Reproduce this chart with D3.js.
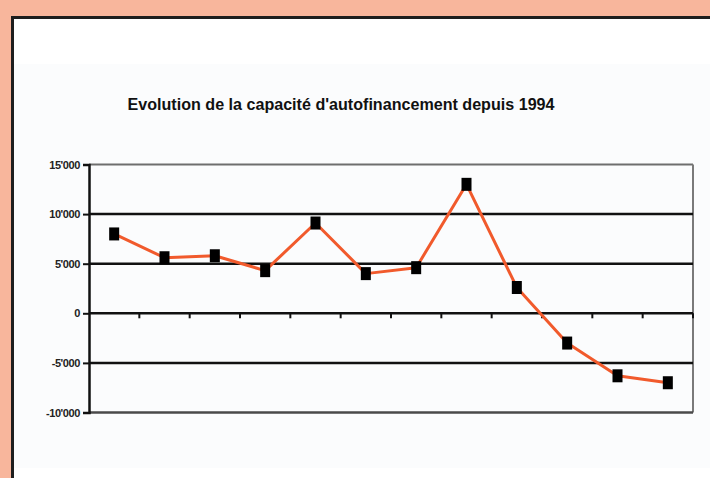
<!DOCTYPE html>
<html>
<head>
<meta charset="utf-8">
<script src="https://cdn.jsdelivr.net/npm/d3@7"></script>
<style>
  html, body { margin: 0; padding: 0; background: #f8b69c; }
  svg { display: block; }
</style>
</head>
<body>
<div id="chart"></div>
<script>
// données
const years = ["1994","1995","1996","1997","1998","1999","2000","2001","2002","2003","2004","2005"];
const cafValues = [8000, 5600, 5800, 4300, 9100, 4000, 4600, 13000, 2600, -3000, -6300, -7000];
const yTicks = [-10000, -5000, 0, 5000, 10000, 15000];
const gridValues = [-5000, 0, 5000, 10000];
const titleText = "Evolution de la capacité d'autofinancement depuis 1994";

const W = 710, H = 478;
const plot = { left: 89, right: 693, top: 164.5, bottom: 412.5 };

const svg = d3.select("#chart").append("svg")
  .attr("width", W)
  .attr("height", H);

// fond saumon + cadre blanc
svg.append("rect").attr("width", W).attr("height", H).attr("fill", "#f8b69c");
svg.append("rect")
  .attr("x", 12.5).attr("y", 17.5)
  .attr("width", W).attr("height", H)
  .attr("fill", "#ffffff")
  .attr("stroke", "#1e1e1e")
  .attr("stroke-width", 3);
// zone légèrement bleutée du graphique
svg.append("rect")
  .attr("x", 14).attr("y", 64)
  .attr("width", W - 14).attr("height", 404)
  .attr("fill", "#fbfcfd");

// titre
svg.append("text")
  .attr("x", 341).attr("y", 110)
  .attr("text-anchor", "middle")
  .attr("font-family", "'Liberation Sans', Arial, sans-serif")
  .attr("font-weight", "bold")
  .attr("font-size", 17)
  .attr("fill", "#111")
  .attr("textLength", 427)
  .attr("lengthAdjust", "spacingAndGlyphs")
  .text(titleText);

const x = d3.scaleBand().domain(years).range([plot.left, plot.right]);
const y = d3.scaleLinear().domain([-10000, 15000]).range([plot.bottom, plot.top]);

const locale = d3.formatLocale({ decimal: ".", thousands: "'", grouping: [3], currency: ["", ""], minus: "-" });
const fmt = locale.format(",d");

// bordure du graphique (gris)
svg.append("line")
  .attr("x1", plot.left).attr("x2", plot.right)
  .attr("y1", y(15000)).attr("y2", y(15000))
  .attr("stroke", "#6e6e6e").attr("stroke-width", 2);
svg.append("line")
  .attr("x1", plot.right).attr("x2", plot.right)
  .attr("y1", y(15000)).attr("y2", y(-10000))
  .attr("stroke", "#7a7a7a").attr("stroke-width", 2);
svg.append("line")
  .attr("x1", plot.left).attr("x2", plot.right)
  .attr("y1", y(-10000)).attr("y2", y(-10000))
  .attr("stroke", "#4a4a4a").attr("stroke-width", 2.5);

// lignes de grille
svg.append("g").selectAll("line")
  .data(gridValues)
  .enter()
  .append("line")
  .attr("x1", plot.left).attr("x2", plot.right)
  .attr("y1", d => y(d)).attr("y2", d => y(d))
  .attr("stroke", "#111")
  .attr("stroke-width", 2.5);

// petites graduations sous la ligne 0
const xTicks = years.slice(1).map(d => x(d)).concat([plot.right]);
svg.append("g").selectAll("line")
  .data(xTicks)
  .enter()
  .append("line")
  .attr("x1", d => d).attr("x2", d => d)
  .attr("y1", y(0)).attr("y2", y(0) + 5)
  .attr("stroke", "#111")
  .attr("stroke-width", 2);

// axe Y
const yAxis = svg.append("g")
  .attr("transform", "translate(" + plot.left + ",0)")
  .call(d3.axisLeft(y).tickValues(yTicks).tickFormat(fmt).tickSize(6).tickPadding(3));
yAxis.select(".domain").attr("stroke", "#111").attr("stroke-width", 2.5);
yAxis.selectAll(".tick line").attr("stroke", "#111").attr("stroke-width", 2);
yAxis.selectAll(".tick text")
  .attr("font-family", "'Liberation Sans', Arial, sans-serif")
  .attr("font-weight", "bold")
  .attr("font-size", 11)
  .attr("letter-spacing", -0.4)
  .attr("fill", "#222");

// courbe
const pts = years.map((d, i) => ({ year: d, value: cafValues[i] }));
const line = d3.line()
  .x(d => x(d.year) + x.bandwidth() / 2)
  .y(d => y(d.value));

svg.append("path")
  .datum(pts)
  .attr("d", line)
  .attr("fill", "none")
  .attr("stroke", "#f15a2c")
  .attr("stroke-width", 3)
  .attr("stroke-linejoin", "round");

// marqueurs carrés
const mw = 10, mh = 13;
svg.append("g").selectAll("rect")
  .data(pts)
  .enter()
  .append("rect")
  .attr("x", d => x(d.year) + x.bandwidth() / 2 - mw / 2)
  .attr("y", d => y(d.value) - mh / 2)
  .attr("width", mw)
  .attr("height", mh)
  .attr("fill", "#000");
</script>
</body>
</html>
